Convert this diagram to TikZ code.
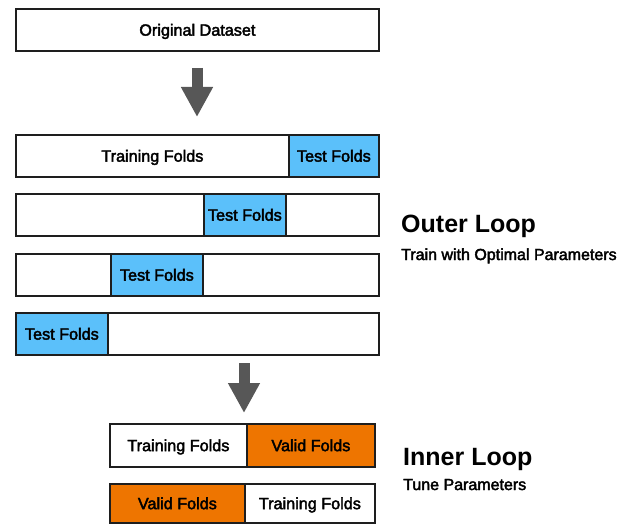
\documentclass[tikz,border=0pt]{standalone}
\usepackage{fontspec}
\setmainfont{Liberation Sans}
\newfontfamily\medfont[FakeBold=2.5]{Liberation Sans}
\usetikzlibrary{arrows.meta}
\definecolor{testblue}{HTML}{5BC0FA}
\definecolor{validorange}{HTML}{EE7500}
\definecolor{edgegray}{HTML}{1E1E1E}
\definecolor{arrowgray}{HTML}{575757}
\begin{document}
\begin{tikzpicture}[x=1pt,y=-1pt,
  seg/.style={draw=edgegray, line width=1.8pt, rectangle, inner sep=0pt, anchor=north west,
    minimum height=42pt, text height=13pt, text depth=1.5pt, font=\medfont\fontsize{16.2}{18}\selectfont},
  test/.style={seg, fill=testblue},
  valid/.style={seg, fill=validorange},
  bigarrow/.style={draw=arrowgray, line width=11pt, -{Triangle[width=30pt,length=30pt]}},
  loop/.style={anchor=base west, inner sep=0pt, font=\fontsize{25}{28}\selectfont\bfseries},
  sub/.style={anchor=base west, inner sep=0pt, font=\medfont\fontsize{16}{19}\selectfont}]

\useasboundingbox (0,0) rectangle (635,524);

\node[seg, minimum width=363pt] (orig) at (15,8) {Original Dataset};

\coordinate (a1top) at (197,68);
\coordinate (a1tip) at (197,117);
\draw[bigarrow] (a1top) -- (a1tip);

% outer folds
\node[seg, minimum width=273pt] (r1a) at (15,134) {Training Folds};
\node[test, minimum width=90pt] (r1b) at (288,134) {Test Folds};

\node[seg, minimum width=188pt] (r2a) at (15,193) {};
\node[test, minimum width=82pt] (r2b) at (203,193) {Test Folds};
\node[seg, minimum width=93pt] (r2c) at (285,193) {};

\node[seg, minimum width=95pt] (r3a) at (15,253) {};
\node[test, minimum width=92pt] (r3b) at (110,253) {Test Folds};
\node[seg, minimum width=176pt] (r3c) at (202,253) {};

\node[test, minimum width=92pt] (r4a) at (15,312) {Test Folds};
\node[seg, minimum width=271pt] (r4b) at (107,312) {};

\node[loop] (outer) at (401,233) {Outer Loop};
\node[sub] (outersub) at (401,260) {Train with Optimal Parameters};

\coordinate (a2top) at (244,363);
\coordinate (a2tip) at (244,413);
\draw[bigarrow] (a2top) -- (a2tip);

% inner folds
\node[seg, minimum width=137pt, minimum height=43pt] (i1a) at (109,423) {Training Folds};
\node[valid, minimum width=128pt, minimum height=43pt] (i1b) at (246,423) {Valid Folds};

\node[valid, minimum width=135pt, minimum height=39pt] (i2a) at (109,483) {Valid Folds};
\node[seg, minimum width=130pt, minimum height=39pt] (i2b) at (244,483) {Training Folds};

\node[loop] (inner) at (403,465) {Inner Loop};
\node[sub] (innersub) at (403,490) {Tune Parameters};

\end{tikzpicture}
\end{document}
